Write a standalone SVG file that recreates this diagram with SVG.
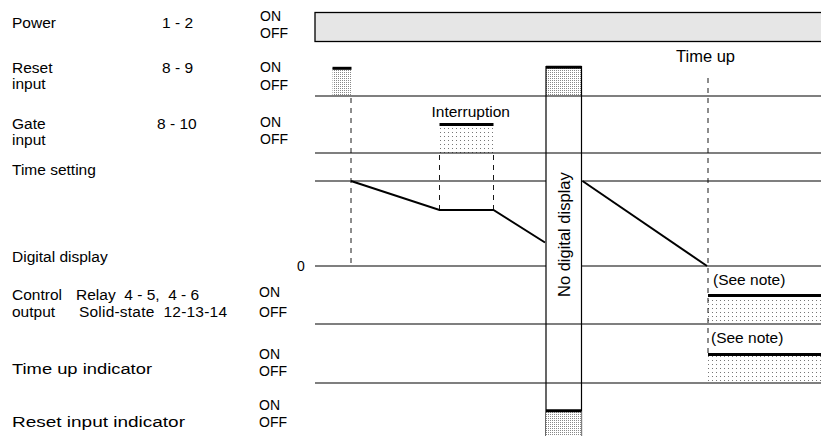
<svg xmlns="http://www.w3.org/2000/svg" width="821" height="436" viewBox="0 0 821 436">
<style>
text{font-family:"Liberation Sans",Arial,sans-serif;fill:#000}
.lb{font-size:15.5px}
.oo{font-size:14px}
.ln{stroke:#000;stroke-width:1.2;fill:none}
.ds{stroke:#000;stroke-width:0.9;stroke-dasharray:5,5;fill:none}
.sl{stroke:#000;stroke-width:2;fill:none}
.bar{stroke:#000;stroke-width:3;fill:none}
.pdense{fill:url(#dense)}
.psparse{fill:url(#sparse)}
</style>
<defs>
<pattern id="dense" width="2" height="2" patternUnits="userSpaceOnUse">
<rect width="2" height="2" fill="#fff"/>
<rect width="1" height="1" fill="#888"/>
</pattern>
<pattern id="sparse" width="4" height="4" patternUnits="userSpaceOnUse">
<rect width="4" height="4" fill="#fff"/>
<rect width="1" height="1" fill="#777"/>
</pattern>
</defs>

<g id="labels">
<text class="lb" x="12" y="28">Power</text>
<text class="lb" x="162" y="28">1 - 2</text>
<text class="oo" x="260" y="21">ON</text>
<text class="oo" x="260" y="38">OFF</text>

<text class="lb" x="12" y="72.5">Reset</text>
<text class="lb" x="12" y="89">input</text>
<text class="lb" x="162" y="72.5">8 - 9</text>
<text class="oo" x="260" y="72">ON</text>
<text class="oo" x="260" y="89.5">OFF</text>

<text class="lb" x="12" y="128.5">Gate</text>
<text class="lb" x="12" y="145">input</text>
<text class="lb" x="157" y="128.5">8 - 10</text>
<text class="oo" x="260" y="127">ON</text>
<text class="oo" x="260" y="143.5">OFF</text>

<text class="lb" x="12" y="175">Time setting</text>
<text class="lb" x="12" y="261.5">Digital display</text>
<text class="oo" x="297" y="271">0</text>

<text class="lb" x="12" y="300">Control</text>
<text class="lb" x="76" y="300" xml:space="preserve">Relay  4 - 5,  4 - 6</text>
<text class="lb" x="12" y="317">output</text>
<text class="lb" x="79" y="317" xml:space="preserve" textLength="148" lengthAdjust="spacing">Solid-state  12-13-14</text>
<text class="oo" x="259" y="297">ON</text>
<text class="oo" x="259" y="317">OFF</text>

<text class="lb" x="12" y="374" textLength="140" lengthAdjust="spacingAndGlyphs">Time up indicator</text>
<text class="oo" x="259" y="359">ON</text>
<text class="oo" x="259" y="375.5">OFF</text>

<text class="lb" x="12" y="427" textLength="173" lengthAdjust="spacingAndGlyphs">Reset input indicator</text>
<text class="oo" x="259" y="410">ON</text>
<text class="oo" x="259" y="427">OFF</text>
</g>

<g id="power">
<rect x="315" y="12.5" width="512" height="29" fill="#e6e6e6" stroke="#000" stroke-width="1.3"/>
</g>

<g id="reset-input">
<rect class="pdense" x="332.5" y="68" width="19" height="28"/>
<line class="bar" x1="332.5" y1="68.3" x2="351.5" y2="68.3"/>
<rect class="pdense" x="546" y="67" width="35.5" height="29"/>
<line class="bar" x1="546" y1="67.3" x2="581.5" y2="67.3"/>
<text x="676" y="61.5" style="font-size:16.5px">Time up</text>
</g>

<g id="gate-input">
<rect class="psparse" x="439.5" y="124" width="54" height="29"/>
<line class="bar" x1="439.5" y1="124.5" x2="493.5" y2="124.5"/>
<text class="lb" x="431.5" y="116.5">Interruption</text>
</g>

<g id="no-display-box">
<line class="ln" x1="546" y1="66" x2="546" y2="436"/>
<line class="ln" x1="581.5" y1="66" x2="581.5" y2="436"/>
<text x="570" y="297" transform="rotate(-90 570 297)" style="font-size:16.5px">No digital display</text>
</g>

<g id="control-output">
<rect class="psparse" x="708" y="295.5" width="115" height="28.5"/>
<line class="bar" x1="708" y1="295.5" x2="823" y2="295.5"/>
<text class="lb" x="713" y="284.5">(See note)</text>
</g>

<g id="time-up-indicator">
<rect class="psparse" x="708" y="354.5" width="115" height="28.5"/>
<line class="bar" x1="708" y1="354.5" x2="823" y2="354.5"/>
<text class="lb" x="711" y="343">(See note)</text>
</g>

<g id="reset-input-indicator">
<rect class="pdense" x="546" y="411" width="35.5" height="26"/>
<line class="bar" x1="546" y1="410.8" x2="581.5" y2="410.8"/>
</g>

<g id="connectors">
<line class="ln" x1="315" y1="96" x2="821" y2="96"/>
<line class="ln" x1="315" y1="153" x2="821" y2="153"/>
<line class="ln" x1="315" y1="181" x2="546" y2="181"/>
<line class="ln" x1="581.5" y1="181" x2="821" y2="181"/>
<line class="ln" x1="315" y1="266" x2="546" y2="266"/>
<line class="ln" x1="581.5" y1="266" x2="821" y2="266"/>
<line class="ln" x1="315" y1="324" x2="821" y2="324"/>
<line class="ln" x1="315" y1="383" x2="821" y2="383"/>

<line class="ds" x1="351" y1="98" x2="351" y2="266"/>
<line class="ds" x1="439.5" y1="155" x2="439.5" y2="210"/>
<line class="ds" x1="493.5" y1="155" x2="493.5" y2="210"/>
<line class="ds" x1="708" y1="78" x2="708" y2="354"/>

<polyline class="sl" points="351,181 439.5,210 493.5,210 545,242.5"/>
<line class="sl" x1="582.5" y1="181" x2="707" y2="266"/>
</g>
</svg>
